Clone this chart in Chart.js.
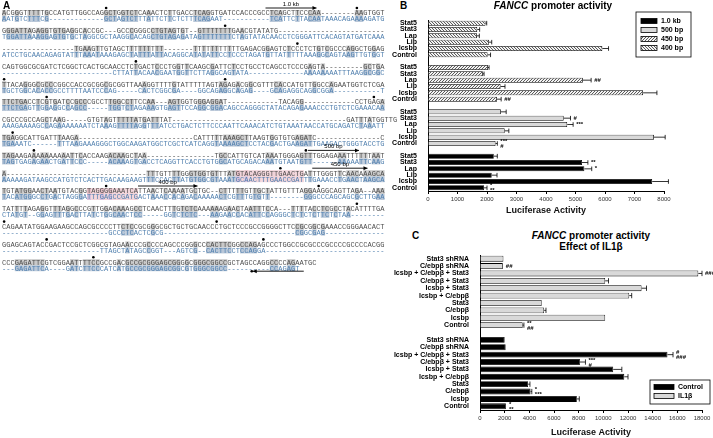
<!DOCTYPE html>
<html>
<head>
<meta charset="utf-8">
<script src="https://cdn.jsdelivr.net/npm/chart.js@4.4.1/dist/chart.umd.min.js"></script>
<style>
  body { margin: 0; background: #fff; width: 713px; height: 438px; overflow: hidden; position: relative;
         font-family: "Liberation Sans", Arial, sans-serif; }
  .abs { position: absolute; }
  .panel { font-weight: bold; font-size: 10px; }
  .ttl { font-weight: bold; font-size: 10px; line-height: 11px; text-align: center; white-space: nowrap; }
</style>
</head>
<body>
<canvas id="seq" class="abs" style="left:0;top:0" width="400" height="285"></canvas>
<div class="abs panel" style="left:3px;top:0px">A</div>
<div class="abs panel" style="left:400px;top:0px">B</div>
<div class="abs panel" style="left:412px;top:230px">C</div>

<div class="abs ttl" style="left:453px;top:0px;width:200px"><i>FANCC</i> promoter activity</div>
<div class="abs ttl" style="left:491px;top:230px;width:200px"><i>FANCC</i> promoter activity<br>Effect of IL1β</div>

<div class="abs" style="left:380px;top:0;width:333px;height:222px"><canvas id="chartB"></canvas></div>
<div class="abs" style="left:380px;top:232px;width:333px;height:206px"><canvas id="chartC"></canvas></div>

<script>
// ------------------------------------------
// Panel B data (top group first on the chart)
// ------------------------------------------
const constructsB = ['Stat5', 'Stat3', 'Lap', 'Lip', 'Icsbp', 'Control'];
const seriesB = ['1.0 kb', '500 bp', '450 bp', '400 bp'];

const kb10Values = [2230, 5220, 5300, 2160, 7600, 1900];
const kb10Errors = [120, 200, 250, 180, 550, 100];
const kb10Notes  = ['', '**', '*', '', '', '*\n**'];

const bp500Values = [2470, 4600, 4720, 2600, 7660, 2290];
const bp500Errors = [180, 230, 200, 140, 380, 60];
const bp500Notes  = ['', '#', '***', '', '', '***\n#'];

const bp450Values = [2030, 1860, 5250, 2460, 7290, 2340];
const bp450Errors = [40, 40, 280, 150, 470, 140];
const bp450Notes  = ['', '', '##', '', '', '##'];

const bp400Values = [1950, 1670, 1660, 2070, 5910, 2020];
const bp400Errors = [40, 80, 80, 90, 210, 100];
const bp400Notes  = ['', '', '', '', '', ''];

const ticksB = { min: 0, max: 8000, step: 1000 };

// ------------------------------------------
// Panel C data
// ------------------------------------------
const constructsC = ['Stat3 shRNA', 'C/ebpβ shRNA', 'Icsbp + C/ebpβ + Stat3', 'C/ebpβ + Stat3',
  'Icsbp + Stat3', 'Icsbp + C/ebpβ', 'Stat3', 'C/ebpβ', 'Icsbp', 'Control'];
const seriesC = ['Control', 'IL1β'];

const il1bValues = [1900, 1850, 17700, 10150, 13100, 12100, 5000, 5200, 10150, 3460];
const il1bErrors = [0, 0, 300, 270, 400, 200, 0, 150, 0, 100];
const il1bNotes  = ['', '##', '###', '', '', '', '', '', '', '**\n##'];

const ctrlValues = [2000, 2080, 15200, 8100, 10800, 11700, 3900, 4100, 7850, 2100];
const ctrlErrors = [0, 0, 450, 450, 700, 300, 150, 100, 200, 0];
const ctrlNotes  = ['', '', '#\n###', '***\n#', '', '', '', '*\n***', '', '*\n**'];

const ticksC = { min: 0, max: 18000, step: 2000 };

// ------------------------------------------
// Panel A: promoter alignment text
// ------------------------------------------
const seqTop = [
  'ACGGGTTTTTGCCATGTTGGCCAGGCTGGTCTCAAACTCTTGACCTCAGGTGATCCACCCGCCTCAGCTTCCCAA--------AAGTGGT',
  'GGGATTAGAGGTGTGAGGCACCGC---GCCCGGGCCTGTAGTGT--GTTTTTTTGAACGTATATG-------------------------',
  '-----------------TGAAGTTGTAGCTTTTTTTTT-------TTTTTTTTTTTGAGACGGAGTCTCCCTCTGTCGCCCAGGCTGGAG',
  'CAGTGGCGCGATCTCGGCTCACTGCAACCTCTGACTCCCTGGTTCAAGCGATTCTCCTGCCTCAGCCTCCCGAGTA---------GCTGA',
  'TTACAGGGCGCCCGGCCACCGCGGCGCGGTTAAAGGTTTTGTATTTTTAGTAGAGACGGCGTTTCACCATGTTGGCCAGAATGGTCTCGA',
  'TTCTGACCTCGTGATCCGCCCGCCTTGGCCTTCCAA---AGTGGTGGGAGGAT------------TACAGG------------CCTGAGA',
  'CGCCCGCCAGCTAAG-----GTGTAGTTTTTATGATTTAT-----------------------------------------GATTTATGGTTG',
  'TGAGGCATTGATTTAAGA---------------------------CATTTTTAAAGCTTAAGTGGTGTGAGATC---------------C',
  'TAGAAGAAAAAAAAAATTCACCAAGACAAGCTAA----------------TGCCATTGTCATAAATGGGAGTTTGGAGAAATTTTTTAAT',
  'A---------------------------------TTTGTTTTGGGTGGTGTTTATGTACAGGGTTGAACTGATTTGGGTTCAACAAAGCA',
  'TGTATGGAACTAATGTACGGTAGGGGAAATCATTAACTCAAAATGCTGC--CTTTTTGTTGCTATTGTTTAGGAAGGCAGTTAGA--AAA',
  'TATTTTAGAGGTTTAGGCCCGTTGGACAAAGCCTCAACTTTGTCTCAAAAAAGAACTAATTTCCA---TTTTACCTCGCCTACATTTTGA',
  'CAGAATATGGAAGAAGCCAGCGCCCCTTCTCCGCGGGCGCTGCTGCAACCCTGCTCCCGCCGGGGCTTCCGCGGCGAAACCGGGAACACT',
  'GGAGCAGTACCGACTCCGCTCGGCGTAGAACCCGCCCCAGCCCGGGCCCACTTCGGCCAGAGCCCTGGCCGCGCCCGCCCCGCCCCACGG',
  'CCCGAGATTCGTCGGAATTTTCCGCCGACGCCGCGGGAGCGGGGCGGGCGGCCGCTAGCCAGGCCCCAGAATGC'
];
const seqBottom = [
  'AATGTCTTTCG-------------GCTAGTCTTTATTCTTCTCTTTCAGAAT-----------TCATTCTTACAATAAACAGAAAAGATG',
  'TGGATTAAAGGAGTGTGCTAGGCGCTAAGGCACAGCTGTAGAGATAGTTTTTTTCTAGTATACAACCTCGGGATTCACAGTATGATCAAA',
  'ATCCTGCAACAGAGTATTTAAATAAAGAGCTATTTATTACAGGCATATATTCCTCCCTAGATGTTATTTTTAAAGGCAGTAAGTTGTGGT',
  '--------------------------CTTATTACAACGAATGGTTCTTAGGCAGTATA-------------AAAAAAAATTTAAGGCGGC',
  'TGCTGGCACACCGCCTTTTAATCCCAG-----CACTCGGCGA----GGCAGAGGCAGAG----GCAGAGGCAGGCGGA-----------T',
  'TTCTGAGTTGGAGGCCAGCC-----TGGTCTAGAAAGTGAGTTCCAGGCGGACAGCCAGGGCTATACAGAGAAACCCTGTCTCGAAACAA',
  'AAAGAAAAGCCAGAAAAAAATCTAAAGTTTTAGGTTTATCCTGACTCTTCCCAATTCAAACATCTGTAAATAACCATGCAGATCTAAATT',
  'TGAAATC------TTTAAGAAAGGGCTGGCAAGATGGCTCGCTCATCAGGTAAAAGCTCCTACGACTGAAGATTGAAGACTGGGTACCTG',
  'TAGTGAGAGAACTGATTCCC-----ACAAAGTGACCTCAGGTTCACCTGTGGCATGCAGACAAATGTAATGTT------AAAAATTCAAG',
  'AAAAAGATAAGCCATGTCTCACTTGACAAGAAGTTTCCACTTATGTGGCGTAAATGCAACTTTGAACCGATTTGAAACCTGAACTAAGCA',
  'TACATGGGCCTGACTAGGGATTTGAGCCGATGACTAAACCACAGACAAAAACTCGTTTGTGTT--------GGGCCCAGCAGCGCTTGAA',
  'CTATGT--GGAGTTTGACTTATCTGGCAACTCC-----GGTCTCTC---AAGAACCACATTCCAGGGCTCTCTCTTCTCTAA--------',
  '-------------------------GCCCTCACTCGCG-------------------------------CGGCGAG--------------',
  '-----------------------TTAGCTATAGCCGGT---AGTCG--CACTTCCTCCAGGA----------------------------',
  '---GAGATTCA----GATCTTCCCATCATGCCGCGGGAGCGGCGTGGGCGGCC----------CCAGAGT'
];
// [row, first column, last column] of the pink marked site
const pinkSites = [[9, 55, 70], [10, 20, 31]];
// [row, column] of the dots above the top line
const seqDots = [[0, 24], [0, 83], [1, 52], [2, 69], [3, 31], [4, 0], [4, 52], [5, 10], [5, 87],
  [7, 2], [8, 7], [8, 71], [9, 65], [10, 24], [10, 74], [11, 83], [12, 0], [12, 50], [13, 10], [13, 61], [14, 21]];
// [row, first column, last column, label, direction]
const seqArrows = [[0, 62, 74, '1.0 kb', 1], [8, 72, 84, '500 bp', 1], [9, 73, 86, '450 bp', 1],
  [10, 32, 46, '400 bp', 1], [14, 59, 71, '', -1]];

function drawSequence() {
  const cv = document.getElementById('seq');
  const g = cv.getContext('2d');
  const CW = 4.25, X0 = 2, Y0 = 13, ROW = 17.8, SUB = 6;
  g.font = '7px "Liberation Mono", monospace';
  g.textAlign = 'center';
  g.textBaseline = 'middle';

  seqTop.forEach((top, r) => {
    const bot = seqBottom[r];
    const yT = Y0 + r * ROW, yB = yT + SUB;
    for (let i = 0; i < Math.max(top.length, bot.length); i++) {
      const t = top[i], b = bot[i];
      const x = X0 + i * CW;
      let pink = pinkSites.some(p => p[0] === r && i >= p[1] && i <= p[2]);
      if (t && b && t === b && t !== '-') {
        g.fillStyle = pink ? '#e7bfc8' : '#c9c9c9';
        g.fillRect(x, yT - 3, CW + 0.1, 6);
        g.fillStyle = pink ? '#d9c1dd' : '#b9c7d8';
        g.fillRect(x, yB - 3, CW + 0.1, 6);
      } else if (pink) {
        g.fillStyle = '#f1d3d9';
        g.fillRect(x, yT - 3, CW + 0.1, 12);
      }
      if (t) { g.fillStyle = '#4d4d4d'; g.fillText(t, x + CW / 2, yT + 0.5); }
      if (b) { g.fillStyle = '#4f7fae'; g.fillText(b, x + CW / 2, yB + 0.5); }
    }
  });

  g.fillStyle = '#000';
  seqDots.forEach(([r, c]) => {
    g.beginPath();
    g.arc(X0 + c * CW + CW / 2, Y0 + r * ROW - 5, 1.3, 0, Math.PI * 2);
    g.fill();
  });

  g.strokeStyle = '#000';
  g.lineWidth = 0.9;
  seqArrows.forEach(([r, c1, c2, label, dir]) => {
    const x1 = X0 + c1 * CW, x2 = X0 + c2 * CW;
    const y = dir > 0 ? Y0 + r * ROW - 5 : Y0 + r * ROW + SUB + 3;
    g.beginPath(); g.moveTo(x1, y); g.lineTo(x2, y); g.stroke();
    const tip = dir > 0 ? x2 : x1;
    g.beginPath();
    g.moveTo(tip, y); g.lineTo(tip - dir * 4, y - 2); g.lineTo(tip - dir * 4, y + 2); g.closePath(); g.fill();
    if (dir < 0) { g.beginPath(); g.arc(x1 - 1, y, 1.3, 0, Math.PI * 2); g.fill(); }
    if (label) {
      g.font = '6px "Liberation Sans", Arial, sans-serif';
      g.fillStyle = '#000';
      g.fillText(label, (x1 + x2) / 2, y - 4);
      g.font = '7px "Liberation Mono", monospace';
    }
  });
}
drawSequence();

// ------------------------------------------
// Charts
// ------------------------------------------
Chart.defaults.font.family = '"Liberation Sans", Arial, sans-serif';
Chart.defaults.color = '#000';
Chart.defaults.animation = false;

function makeHatch(dir) {
  const s = 3;
  const c = document.createElement('canvas');
  c.width = s; c.height = s;
  const g = c.getContext('2d');
  g.fillStyle = '#f2f2f2';
  g.fillRect(0, 0, s, s);
  g.fillStyle = '#5a5a5a';
  for (let i = 0; i < s; i++) {
    const x = dir > 0 ? s - 1 - i : i;
    g.fillRect(x, i, 1, 1);
  }
  return document.createElement('canvas').getContext('2d').createPattern(c, 'repeat');
}

// place each group's values in its own block of categories, blank row between groups
function buildChartData(names, groups) {
  const labels = [];
  groups.forEach((grp, gi) => {
    names.forEach(n => labels.push(n));
    if (gi < groups.length - 1) labels.push('');
  });
  const step = names.length + 1;
  const datasets = groups.map((grp, gi) => {
    const data = labels.map(() => null);
    const errors = labels.map(() => 0);
    const notes = labels.map(() => '');
    grp.values.forEach((v, i) => {
      data[gi * step + i] = v;
      errors[gi * step + i] = grp.errors[i];
      notes[gi * step + i] = grp.notes[i];
    });
    return {
      label: grp.label, data, errors, notes, order: grp.legendIndex,
      backgroundColor: grp.color, borderColor: '#000', borderWidth: 0.8,
      grouped: false, barPercentage: 0.8, categoryPercentage: 1.0
    };
  });
  datasets.sort((a, b) => a.order - b.order);
  return { labels, datasets };
}

const errorBars = {
  id: 'errorBars',
  afterDatasetsDraw(chart) {
    const ctx = chart.ctx;
    const xs = chart.scales.x;
    ctx.save();
    chart.data.datasets.forEach((ds, di) => {
      const meta = chart.getDatasetMeta(di);
      meta.data.forEach((bar, i) => {
        const v = ds.data[i];
        if (v == null) return;
        const e = ds.errors[i] || 0;
        const xEnd = xs.getPixelForValue(v + e);
        const half = bar.height * 0.45;
        ctx.strokeStyle = '#000';
        ctx.lineWidth = 0.8;
        if (e > 0) {
          ctx.beginPath();
          ctx.moveTo(bar.x, bar.y); ctx.lineTo(xEnd, bar.y);
          ctx.moveTo(xEnd, bar.y - half); ctx.lineTo(xEnd, bar.y + half);
          ctx.stroke();
        }
        const note = ds.notes[i];
        if (note) {
          const lines = note.split('\n');
          ctx.fillStyle = '#000';
          ctx.font = 'bold 6px "Liberation Sans", Arial, sans-serif';
          ctx.textBaseline = 'middle';
          ctx.textAlign = 'left';
          lines.forEach((t, k) => ctx.fillText(t, xEnd + 3, bar.y + k * 5 - (lines.length - 1) * 2));
        }
      });
    });
    ctx.restore();
  }
};

const boxLegend = {
  id: 'boxLegend',
  afterDraw(chart, args, o) {
    const ctx = chart.ctx;
    ctx.save();
    ctx.lineWidth = 0.8;
    ctx.strokeStyle = '#000';
    ctx.strokeRect(o.x, o.y, o.w, o.h);
    ctx.font = 'bold 7px "Liberation Sans", Arial, sans-serif';
    ctx.textBaseline = 'middle';
    chart.data.datasets.forEach((ds, i) => {
      const y = o.y + o.first + i * o.step;
      ctx.fillStyle = ds.backgroundColor;
      ctx.fillRect(o.x + o.pad, y - o.sh / 2, o.sw, o.sh);
      ctx.strokeRect(o.x + o.pad, y - o.sh / 2, o.sw, o.sh);
      ctx.fillStyle = '#000';
      ctx.fillText(ds.label, o.x + o.pad + o.sw + 4, y + 0.5);
    });
    ctx.restore();
  }
};

function makeChart(id, data, ticks, axisWidth, axisHeight, padding, legendBox) {
  return new Chart(document.getElementById(id), {
    type: 'bar',
    data: data,
    plugins: [errorBars, boxLegend],
    options: {
      indexAxis: 'y',
      responsive: true,
      maintainAspectRatio: false,
      layout: { padding: padding },
      plugins: {
        legend: { display: false },
        tooltip: { enabled: false },
        boxLegend: legendBox
      },
      scales: {
        y: {
          grid: { display: false },
          border: { display: true, color: '#000', width: 1 },
          ticks: { font: { size: 7, weight: 'bold' }, color: '#000', padding: 3, autoSkip: false },
          afterFit: s => { s.width = axisWidth; }
        },
        x: {
          min: ticks.min, max: ticks.max,
          grid: { drawOnChartArea: false, drawTicks: true, tickLength: 3, color: '#000' },
          border: { display: true, color: '#000', width: 1 },
          ticks: { stepSize: ticks.step, font: { size: 6 }, color: '#333', padding: 2, maxRotation: 0,
                   callback: v => String(v) },
          title: { display: true, text: 'Luciferase Activity', font: { size: 9, weight: 'bold' }, color: '#111', padding: { top: 2, bottom: 0 } },
          afterFit: s => { s.height = axisHeight; }
        }
      }
    }
  });
}

const hatch450 = makeHatch(1);
const hatch400 = makeHatch(-1);

const dataB = buildChartData(constructsB, [
  { label: seriesB[3], values: bp400Values, errors: bp400Errors, notes: bp400Notes, color: hatch400, legendIndex: 3 },
  { label: seriesB[2], values: bp450Values, errors: bp450Errors, notes: bp450Notes, color: hatch450, legendIndex: 2 },
  { label: seriesB[1], values: bp500Values, errors: bp500Errors, notes: bp500Notes, color: '#d9d9d9', legendIndex: 1 },
  { label: seriesB[0], values: kb10Values, errors: kb10Errors, notes: kb10Notes, color: '#000000', legendIndex: 0 }
]);
makeChart('chartB', dataB, ticksB, 48, 25, { top: 20, right: 49, bottom: 6, left: 0 },
  { x: 256, y: 12, w: 55, h: 45, pad: 5, first: 9, step: 9, sw: 16, sh: 5 });

const dataC = buildChartData(constructsC, [
  { label: seriesC[1], values: il1bValues, errors: il1bErrors, notes: il1bNotes, color: '#d9d9d9', legendIndex: 1 },
  { label: seriesC[0], values: ctrlValues, errors: ctrlErrors, notes: ctrlNotes, color: '#000000', legendIndex: 0 }
]);
makeChart('chartC', dataC, ticksC, 100, 28, { top: 23, right: 11, bottom: 0, left: 0 },
  { x: 270, y: 148, w: 60, h: 24, pad: 4, first: 7, step: 9, sw: 20, sh: 5 });
</script>
</body>
</html>
